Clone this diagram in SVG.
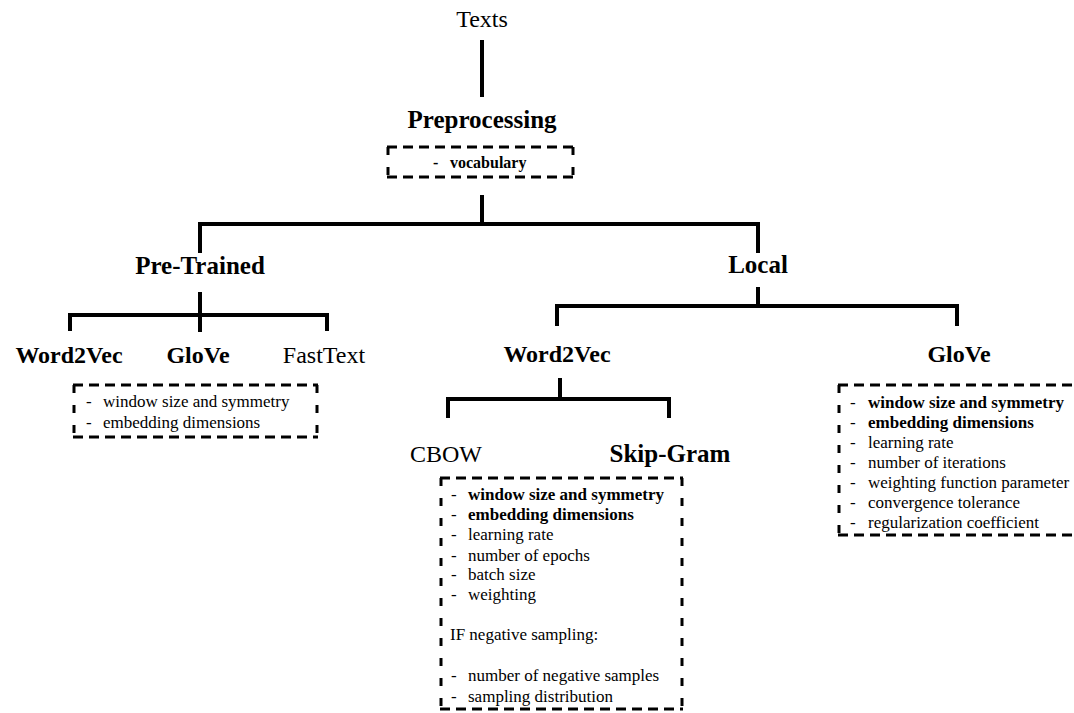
<svg xmlns="http://www.w3.org/2000/svg" width="1074" height="713" viewBox="0 0 1074 713">
<style>
.t{font-family:"Liberation Serif","Times New Roman",serif;fill:#000}
.h{font-size:24px;text-anchor:middle}
.b{font-weight:bold}
.s{font-size:17px}
.c{stroke:#000;stroke-width:4;fill:none;stroke-linecap:butt}
.dh{stroke:#000;stroke-width:3;fill:none;stroke-dasharray:10 6}
.dv{stroke:#000;stroke-width:3;fill:none;stroke-dasharray:8 12}
</style>
<rect width="1074" height="713" fill="#fff"/>
<g id="connectors">
<path class="c" d="M482 40V97"/>
<path class="c" d="M482 195V224M200 253V224H758V253"/>
<path class="c" d="M200 292V332M70 331V315H327V331"/>
<path class="c" d="M758 287V306M557 326V306H957V326"/>
<path class="c" d="M560 378V399M448 418V399H669V418"/>
</g>
<g id="texts"><text class="t h" x="482" y="27">Texts</text></g>
<g id="preprocessing">
<text class="t h b" x="482" y="128" style="font-size:25px">Preprocessing</text>
<path class="dh" d="M387 147H574M387 177H574"/>
<path class="dv" d="M388 147V177M573 147V177"/>
<text class="t b" x="433" y="168" style="font-size:16px">-</text>
<text class="t b" x="450" y="168" style="font-size:16px">vocabulary</text>
</g>
<g id="pretrained"><text class="t h b" x="200" y="274" style="font-size:25px">Pre-Trained</text></g>
<g id="pt-word2vec"><text class="t h b" x="69" y="363">Word2Vec</text></g>
<g id="pt-glove"><text class="t h b" x="198" y="363">GloVe</text></g>
<g id="pt-fasttext"><text class="t h" x="324" y="363">FastText</text></g>
<g id="pt-params">
<path class="dh" d="M73 385H318M73 437H318"/>
<path class="dv" d="M74 385V437M317 385V437"/>
<text class="t s" x="86" y="407">-</text><text class="t s" x="103" y="407">window size and symmetry</text>
<text class="t s" x="86" y="428">-</text><text class="t s" x="103" y="428">embedding dimensions</text>
</g>
<g id="local"><text class="t h b" x="758" y="273" style="font-size:25px">Local</text></g>
<g id="local-word2vec"><text class="t h b" x="557" y="362">Word2Vec</text></g>
<g id="cbow"><text class="t h" x="446" y="462">CBOW</text></g>
<g id="skipgram"><text class="t h b" x="670" y="462" style="font-size:25px">Skip-Gram</text></g>
<g id="w2v-params">
<path class="dh" d="M440 478H683M440 709H683"/>
<path class="dv" d="M441 478V709M682 478V709"/>
<text class="t s" x="451" y="500">-</text><text class="t s b" x="468" y="500">window size and symmetry</text>
<text class="t s" x="451" y="520">-</text><text class="t s b" x="468" y="520">embedding dimensions</text>
<text class="t s" x="451" y="540">-</text><text class="t s" x="468" y="540">learning rate</text>
<text class="t s" x="451" y="561">-</text><text class="t s" x="468" y="561">number of epochs</text>
<text class="t s" x="451" y="580">-</text><text class="t s" x="468" y="580">batch size</text>
<text class="t s" x="451" y="600">-</text><text class="t s" x="468" y="600">weighting</text>
<text class="t s" x="450" y="640">IF negative sampling:</text>
<text class="t s" x="451" y="681">-</text><text class="t s" x="468" y="681">number of negative samples</text>
<text class="t s" x="451" y="702">-</text><text class="t s" x="468" y="702">sampling distribution</text>
</g>
<g id="local-glove"><text class="t h b" x="959" y="362">GloVe</text></g>
<g id="glove-params">
<path class="dh" d="M838 385H1080M838 535H1080"/>
<path class="dv" d="M839 385V535"/>
<text class="t s" x="850" y="408">-</text><text class="t s b" x="868" y="408">window size and symmetry</text>
<text class="t s" x="850" y="428">-</text><text class="t s b" x="868" y="428">embedding dimensions</text>
<text class="t s" x="850" y="448">-</text><text class="t s" x="868" y="448">learning rate</text>
<text class="t s" x="850" y="468">-</text><text class="t s" x="868" y="468">number of iterations</text>
<text class="t s" x="850" y="488">-</text><text class="t s" x="868" y="488">weighting function parameter</text>
<text class="t s" x="850" y="508">-</text><text class="t s" x="868" y="508">convergence tolerance</text>
<text class="t s" x="850" y="528">-</text><text class="t s" x="868" y="528">regularization coefficient</text>
</g>
</svg>
